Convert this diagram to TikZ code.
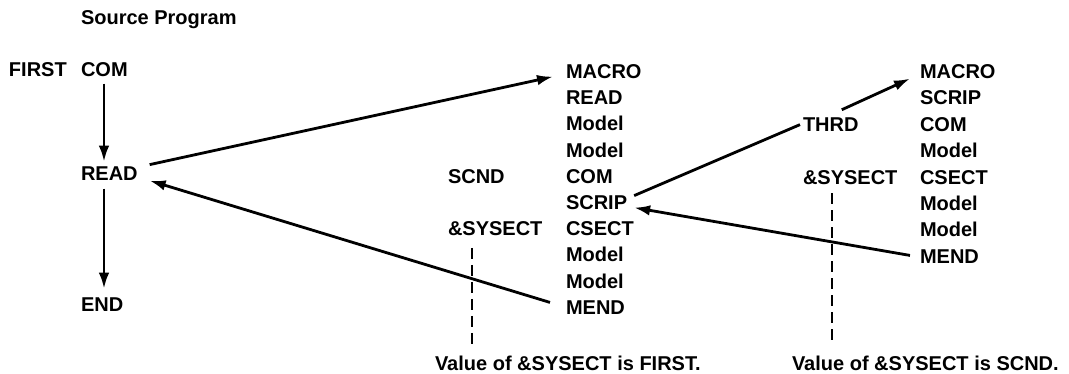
\documentclass[tikz,border=0pt]{standalone}
\usepackage{fontspec}
\newfontfamily\dfont{Liberation Sans Bold}
\usetikzlibrary{calc,arrows.meta}
\tikzset{
  txt/.style={anchor=base west, inner sep=0pt, outer sep=0pt},
  arr/.style={line width=2.8pt, -{Latex[length=16pt,width=10.5pt]}},
  plain/.style={line width=2.8pt},
  dash1/.style={line width=2pt, dash pattern=on 11pt off 6pt}
}
\begin{document}
\begin{tikzpicture}[x=1pt,y=-1pt,font=\dfont\fontsize{20}{24}\selectfont]
\useasboundingbox (0,0) rectangle (1069,373);
% left column
\node[txt] (src) at (81,24.5) {Source Program};
\node[txt] (first) at (9,76.5) {FIRST};
\node[txt] (com) at (81,76.5) {COM};
\node[txt] (read) at (81,180.5) {READ};
\node[txt] (endn) at (81,311.5) {END};
% second column
\node[txt] (bmacro) at (566,78.5) {MACRO};
\node[txt] (bread) at (566,104.7) {READ};
\node[txt] (bmodela) at (566,130.9) {Model};
\node[txt] (bmodelb) at (566,157.1) {Model};
\node[txt] (bcom) at (566,183.3) {COM};
\node[txt] (bscrip) at (566,209.5) {SCRIP};
\node[txt] (bcsect) at (566,235.7) {CSECT};
\node[txt] (bmodelc) at (566,261.9) {Model};
\node[txt] (bmodeld) at (566,288.1) {Model};
\node[txt] (bmend) at (566,314.3) {MEND};
\node[txt] (scnd) at (448,183.3) {SCND};
\node[txt] (sysa) at (448,235.7) {\&SYSECT};
\node[txt] (vala) at (435,370) {Value of \&SYSECT is FIRST.};
% third column
\node[txt] (cmacro) at (920,78.5) {MACRO};
\node[txt] (cscrip) at (920,104.9) {SCRIP};
\node[txt] (ccom) at (920,131.3) {COM};
\node[txt] (cmodela) at (920,157.7) {Model};
\node[txt] (ccsect) at (920,184.1) {CSECT};
\node[txt] (cmodelb) at (920,210.5) {Model};
\node[txt] (cmodelc) at (920,236.9) {Model};
\node[txt] (cmend) at (920,263.3) {MEND};
\node[txt] (thrd) at (803,131.5) {THRD};
\node[txt] (sysb) at (803,184.1) {\&SYSECT};
\node[txt] (valb) at (792,370) {Value of \&SYSECT is SCND.};
% connectors
\draw[arr] ($(com.south west)+(23,7)$) -- ($(com.south west |- read.north)+(23,-5)$);
\draw[arr] ($(com.south west |- read.south)+(23,8)$) -- ($(com.south west |- endn.north)+(23,-9)$);
\draw[arr] ($(read.east)+(12,-9)$) -- ($(bmacro.west)+(-13,5)$);
\draw[arr] ($(bmend.west)+(-16,-5)$) -- ($(read.east)+(12,7)$);
\draw[plain] ($(bscrip.east)+(7,-7)$) -- ($(thrd.west)+(-3,0)$);
\draw[arr] ($(thrd.north)+(11,-8)$) -- ($(cmacro.west)+(-10,7)$);
\draw[arr] ($(cmend.west)+(-10,-1)$) -- ($(bscrip.east)+(7,5)$);
\draw[dash1] ($(sysa.south west)+(24,12)$) -- ($(sysa.south west |- vala.north)+(24,-8)$);
\draw[dash1] ($(sysb.south west)+(29,9)$) -- ($(sysb.south west |- valb.north)+(29,-12)$);
\end{tikzpicture}
\end{document}
